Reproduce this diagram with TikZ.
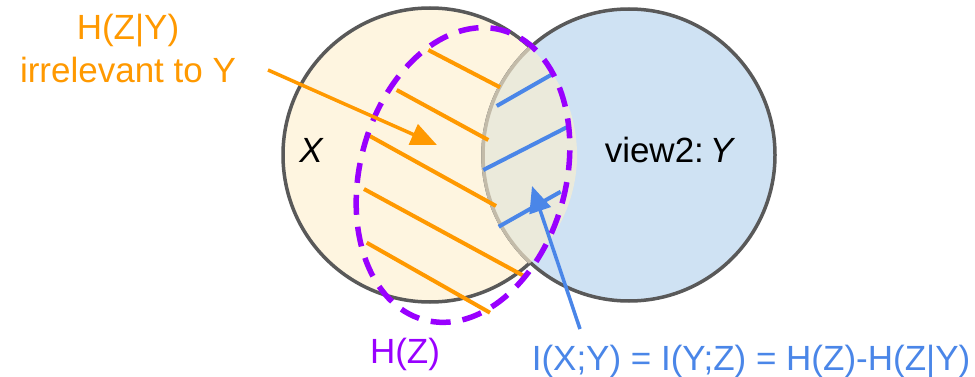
\documentclass[tikz,border=0pt]{standalone}
\usepackage{fontspec}
\setmainfont{Liberation Sans}
\usetikzlibrary{arrows.meta}
\definecolor{xfill}{HTML}{FEF5E0}
\definecolor{yfill}{HTML}{CFE2F3}
\definecolor{lens}{HTML}{EBEADB}
\definecolor{lensedge}{HTML}{C3BBA9}
\definecolor{edge}{HTML}{595959}
\definecolor{org}{HTML}{FF9900}
\definecolor{blu}{HTML}{4A86E8}
\definecolor{pur}{HTML}{9900FF}
\begin{document}
\begin{tikzpicture}[x=1pt,y=-1pt, font=\fontsize{35}{42}\selectfont,
 circ/.style={line width=3.5pt, draw=edge},
 hatchO/.style={draw=org, line width=4pt},
 hatchB/.style={draw=blu, line width=4pt},
 lbl/.style={anchor=base, inner sep=0pt},
 arrO/.style={draw=org, line width=3.5pt, -{Triangle[length=26pt,width=22pt]}},
 arrB/.style={draw=blu, line width=3.5pt, -{Triangle[length=26pt,width=22pt]}}]
\useasboundingbox (0,0) rectangle (975,377);
\fill[white] (0,0) rectangle (975,377);
\coordinate (cx) at (430,155);
\coordinate (cy) at (629,155);
\path[circ, fill=xfill] (cx) circle[radius=147pt];
\path[circ, fill=yfill] (cy) circle[radius=146pt];
\begin{scope}
\clip (cx) circle[radius=147pt];
\fill[lens] (cy) circle[radius=146pt];
\draw[line width=3.5pt, lensedge] (cy) circle[radius=146pt];
\end{scope}
% hatching
\draw[hatchO] (428.3,50) -- (500,87.3);
\draw[hatchO] (396.7,90) -- (488.3,140);
\draw[hatchO] (366.7,134.3) -- (496,206);
\draw[hatchO] (364,189) -- (524,276);
\draw[hatchO] (366.7,242.7) -- (490,312.7);
\draw[hatchB] (496.7,106) -- (552.7,74);
\draw[hatchB] (483.3,170) -- (569.3,126);
\draw[hatchB] (498.7,226.7) -- (560.7,191.7);
% H(Z) ellipse
\draw[pur, line width=5.5pt, dash pattern=on 20pt off 12pt, rotate around={-15:(463,175)}]
  (463,175) ellipse [x radius=103pt, y radius=150pt];
% labels
\node[lbl, text=org] (hzy) at (128,40) {H(Z|Y)};
\node[lbl, text=org] (irr) at (128,83) {irrelevant to Y};
\node[lbl] (xl) at (311,163) {\itshape X};
\node[lbl] (yl) at (670,163) {view2:\,\textit{Y}};
\node[lbl, text=pur] (hz) at (405,363) {H(Z)};
\node[lbl, text=blu] (mi) at (751,370) {I(X;Y) = I(Y;Z) = H(Z)-H(Z|Y)};
% arrows
\coordinate (os) at (268,70);
\coordinate (ot) at (437,145);
\coordinate (bs) at (580,329);
\coordinate (bt) at (532,186);
\draw[arrO] (os) -- (ot);
\draw[arrB] (bs) -- (bt);
\end{tikzpicture}
\end{document}
